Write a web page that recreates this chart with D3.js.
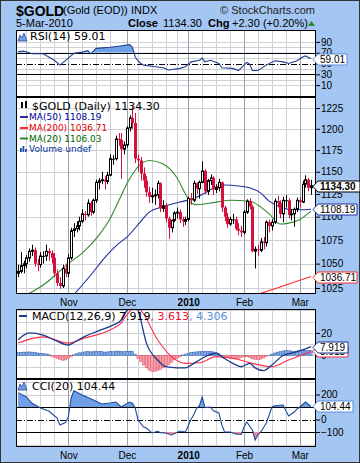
<!DOCTYPE html>
<html>
<head>
<meta charset="utf-8">
<script src="https://cdn.jsdelivr.net/npm/d3@7"></script>
<style>
body{margin:0;background:#fff}
svg{display:block}
.ax text{font-family:"Liberation Sans",Arial,sans-serif;font-size:10px;fill:#000}
.lg{font-family:"DejaVu Sans",Verdana,sans-serif}
.hd{font-family:"Liberation Sans",Arial,sans-serif}
</style>
</head>
<body>
<div id="chart"></div>
<script>
var holidays = ["2009-12-25","2010-01-01"]

var opens = [1040,1042,1048,1050,1056,1063,1064,1050,1049,1058,1058,1063,1061,1056,1040,1030,1027,1045,
1040,1056,1085,1087,1090,1095,1103,1102,1115,1105,1118,1138,1140,1141,1139,1146,1165,1165,1188,1187,1176,
1181,1201,1213,1207,1165,1163,1148,1140,1127,1122,1123,1124,1137,1109,1112,1098,1088,1096,1104,1105,1097,1095,
1097,1120,1118,1137,1131,1138,1151,1128,1140,1143,1130,1132,1138,1110,1100,1092,1097,1097,1087,1085,
1083,1105,1117,1111,1063,1065,1064,1073,1072,1094,1090,1094,1117,1115,1103,1118,1118,1102,1103,1108,
1118,1116,1136,1141,1132]
var highs = [1049,1062,1053,1059,1066,1070,1067,1055,1062,1063,1070,1066,1064,1061,1044,1036,1049,1050,
1060,1088,1093,1095,1100,1108,1106,1119,1117,1120,1141,1143,1150,1145,1150,1170,1169,1192,1195,1195,1185,
1203,1216,1227,1219,1170,1167,1155,1145,1133,1132,1130,1140,1138,1118,1115,1100,1097,1106,1110,1108,1100,1100,
1122,1126,1140,1138,1140,1162,1153,1142,1147,1145,1136,1142,1139,1112,1104,1100,1103,1100,1093,1090,
1107,1119,1120,1113,1068,1070,1077,1078,1096,1097,1097,1120,1123,1118,1122,1124,1120,1108,1110,1121,
1122,1140,1146,1143,1141]
var lows = [1036,1040,1040,1045,1052,1058,1047,1042,1046,1050,1053,1053,1050,1036,1027,1024,1025,1036,
1036,1054,1078,1083,1085,1093,1096,1100,1101,1103,1115,1130,1136,1130,1136,1145,1158,1163,1180,1142,1170,
1178,1197,1200,1160,1150,1140,1132,1122,1115,1115,1113,1120,1105,1105,1094,1076,1083,1094,1098,1093,1089,1091,
1095,1113,1116,1125,1120,1137,1125,1124,1135,1124,1126,1128,1105,1095,1088,1090,1092,1085,1080,1078,
1081,1103,1108,1062,1045,1058,1062,1065,1068,1083,1085,1092,1110,1098,1094,1110,1098,1096,1089,1105,
1110,1115,1132,1128,1124]
var closes = [1042,1048,1050,1056,1063,1064,1050,1049,1058,1058,1063,1061,1056,1040,1030,1027,1045,1040,
1056,1085,1087,1090,1095,1103,1102,1115,1105,1118,1138,1140,1141,1139,1146,1165,1165,1188,1187,1176,1181,
1201,1213,1207,1165,1163,1148,1140,1127,1122,1123,1124,1137,1109,1112,1098,1088,1096,1104,1105,1097,1095,1097,
1120,1118,1137,1131,1138,1151,1128,1140,1143,1130,1132,1138,1110,1100,1092,1097,1097,1087,1085,1083,
1105,1117,1111,1063,1065,1064,1073,1072,1094,1090,1094,1117,1115,1103,1118,1118,1102,1103,1108,1118,
1116,1136,1141,1132,1134.3]

var ma50 = [["2009-11-03",1015],["2009-11-12",1038],["2009-11-19",1056],["2009-11-26",1071],["2009-12-01",1078],
["2009-12-08",1095],["2009-12-11",1105],["2009-12-18",1111],["2009-12-29",1116],["2010-01-05",1119],["2010-01-12",1126],
["2010-01-14",1130],["2010-01-21",1135],["2010-01-28",1134],["2010-02-03",1132],["2010-02-09",1126],["2010-02-12",1117],
["2010-02-18",1111],["2010-02-23",1108],["2010-03-01",1107.5],["2010-03-05",1108.19]]
var ma200 = [["2010-02-08",1018.5],["2010-02-19",1027],["2010-02-26",1031.8],["2010-03-05",1036.71]]
var ma20 = [["2009-10-12",1018],["2009-10-21",1030],["2009-10-27",1040],["2009-11-02",1050],["2009-11-09",1061],
["2009-11-17",1080],["2009-11-23",1098],["2009-11-26",1117],["2009-12-02",1142],["2009-12-08",1159],["2009-12-11",1163],
["2009-12-18",1159],["2009-12-28",1143],["2009-12-31",1125],["2010-01-05",1115],["2010-01-07",1113],["2010-01-14",1115],
["2010-01-25",1118],["2010-02-03",1117],["2010-02-12",1103],["2010-02-18",1092],["2010-02-23",1093],["2010-03-01",1097],
["2010-03-05",1106.03]]

var rsi = [["2009-10-07",72],["2009-10-09",73],["2009-10-13",70],["2009-10-14",68],["2009-10-20",68],["2009-10-26",56],
["2009-10-28",47],["2009-11-02",60],["2009-11-04",69],["2009-11-09",71],["2009-11-11",74],["2009-11-12",68],["2009-11-16",78],
["2009-11-23",80],["2009-11-26",82],["2009-12-02",85],["2009-12-03",80],["2009-12-04",62],["2009-12-07",55],["2009-12-08",50],
["2009-12-09",47],["2009-12-14",45],["2009-12-18",42],["2009-12-22",38],["2009-12-29",41],["2009-12-31",44],["2010-01-05",53],
["2010-01-08",56],["2010-01-11",60],["2010-01-12",53],["2010-01-14",56],["2010-01-19",50],["2010-01-20",42],["2010-01-26",41],
["2010-01-28",37],["2010-02-02",52],["2010-02-03",49],["2010-02-04",37],["2010-02-08",37],["2010-02-11",47],["2010-02-16",55],
["2010-02-19",53],["2010-02-23",50],["2010-02-26",55],["2010-03-02",62],["2010-03-03",64],["2010-03-05",59.01]]

var macd = [["2009-10-07",14],["2009-10-13",20],["2009-10-20",18],["2009-10-26",13.8],["2009-11-02",9.3],["2009-11-05",13],
["2009-11-10",17],["2009-11-17",22],["2009-11-24",27],["2009-11-27",31.5],["2009-12-01",40],["2009-12-03",46],["2009-12-04",44],
["2009-12-07",40],["2009-12-10",11],["2009-12-16",-4],["2009-12-21",-10],["2009-12-28",-11],["2009-12-31",-11],["2010-01-06",-7],
["2010-01-08",-4],["2010-01-13",0],["2010-01-18",2],["2010-01-20",-1],["2010-01-26",-7],["2010-01-29",-10],["2010-02-03",-7],
["2010-02-05",-11],["2010-02-10",-13.5],["2010-02-15",-8.5],["2010-02-19",0],["2010-02-24",2],["2010-03-02",5],["2010-03-05",7.919]]
var signal = [["2009-10-07",11],["2009-10-20",16.5],["2009-11-02",11],["2009-11-10",15.5],["2009-11-23",22.7],["2009-11-27",29],
["2009-12-01",36],["2009-12-04",43],["2009-12-08",40],["2009-12-16",14],["2009-12-23",-1],["2009-12-31",-7],["2010-01-08",-6.5],
["2010-01-18",-1],["2010-01-26",-2.5],["2010-02-04",-7],["2010-02-15",-10],["2010-02-23",-4],["2010-03-05",3.613]]
var hist = [2.5,2.8,3.0,3.0,3.2,3.0,2.6,2.2,2.0,1.8,1.4,0.8,
-0.6,-1.5,-2.6,-3.5,-4.2,-4.0,-2.8,-1.2,
0.6,1.6,2.4,3.0,3.2,3.6,3.2,3.4,3.8,3.6,3.4,3.0,3.2,3.6,3.4,3.8,4.0,3.6,3.4,3.6,3.8,3.4,1.0,
-2.5,-5.5,-8.5,-11,-13,-14,-14,-13.5,-12.5,-11,-9.5,-8,-6,-4,-2.5,-1.2,
0.5,1.2,2.0,2.6,3.0,3.2,3.4,3.8,3.6,3.4,3.6,3.2,2.4,1.4,
0.2,-0.8,-1.8,-2.5,-2.8,-3.0,-2.6,-2.0,-1.0,-1.2,-2.0,-3.0,-3.5,-3.8,-3.2,-2.2,-1.0,
0.2,1.2,2.2,3.0,3.6,4.0,4.4,4.2,4.0,3.8,4.0,4.2,4.5,4.6,4.4,4.306]

var cci = [["2009-10-07",215],["2009-10-12",180],["2009-10-14",130],["2009-10-19",92],["2009-10-22",68],["2009-10-27",12],
["2009-10-28",-44],["2009-10-30",-25],["2009-11-02",20],["2009-11-03",170],["2009-11-04",230],["2009-11-09",196],["2009-11-13",156],
["2009-11-18",124],["2009-11-23",132],["2009-11-25",140],["2009-11-27",100],["2009-11-30",115],["2009-12-02",140],["2009-12-03",130],
["2009-12-04",90],["2009-12-07",-4],["2009-12-09",-60],["2009-12-10",-68],["2009-12-14",-108],["2009-12-16",-95],["2009-12-17",-105],
["2009-12-21",-108],["2009-12-23",-124],["2009-12-29",-92],["2009-12-31",-100],["2010-01-04",-50],["2010-01-05",0],["2010-01-06",40],
["2010-01-07",90],["2010-01-08",110],["2010-01-11",180],["2010-01-12",95],["2010-01-14",100],["2010-01-15",70],["2010-01-19",52],
["2010-01-20",-40],["2010-01-21",-100],["2010-01-25",-100],["2010-01-27",-115],["2010-01-29",-120],["2010-02-01",-60],["2010-02-02",-20],
["2010-02-04",-84],["2010-02-05",-164],["2010-02-08",-120],["2010-02-09",-100],["2010-02-11",-28],["2010-02-15",100],["2010-02-16",110],
["2010-02-19",116],["2010-02-22",70],["2010-02-23",28],["2010-02-25",60],["2010-02-26",84],["2010-03-01",100],["2010-03-03",140],
["2010-03-05",104.44]]

var mainTicks = [1025,1050,1075,1100,1125,1150,1175,1200,1225]
var rsiTicks = [10,30,50,70,90]
var macdTicks = [0,20]
var cciTicks = [-100,0,200]
var monthNames = {10:"Nov",11:"Dec",0:"2010",1:"Feb",2:"Mar"}

var fmt = d3.timeFormat("%Y-%m-%d")
var days = d3.timeDay.range(new Date(2009,9,7), new Date(2010,2,6)).filter(function(d){
  return d.getDay()>0 && d.getDay()<6 && holidays.indexOf(fmt(d))<0
})
var idx = {}
days.forEach(function(d,i){ idx[fmt(d)] = i })

var monthStarts = []
days.forEach(function(d,i){ if(i>0 && d.getMonth()!=days[i-1].getMonth()) monthStarts.push(i) })
var weekLines = []
days.forEach(function(d,i){
  if(d.getDay()==1 && !monthStarts.some(function(m){return Math.abs(m-i)<=2})) weekLines.push(i)
})

var L = 16, R = 316
var svg = d3.select("#chart").append("svg").attr("width",360).attr("height",463)
svg.append("rect").attr("x",0.5).attr("y",0.5).attr("width",359).attr("height",462)
  .attr("fill","#a4c6f2").attr("stroke","#333")

var x = d3.scaleLinear().domain([-0.75,106.8]).range([L,R])
var yRsi = d3.scaleLinear().domain([-12,112]).range([97,30])
var yMain = d3.scaleLog().domain([1018.9,1238.4]).range([294,97])
var yMacd = d3.scaleLinear().domain([-20.9,41.3]).range([379,309])
var yCci = d3.scaleLinear().domain([-220,324]).range([447,379])

var clipN = 0
function clip(x0,y0,x1,y1){
  var id = "c"+(clipN++)
  svg.append("clipPath").attr("id",id).append("rect").attr("x",x0).attr("y",y0).attr("width",x1-x0).attr("height",y1-y0)
  return "url(#"+id+")"
}

function panel(top,bottom,y,light,solid,dashed){
  svg.append("rect").attr("x",L).attr("y",top).attr("width",R-L).attr("height",bottom-top).attr("fill","#fff")
  var g = svg.append("g")
  light.forEach(function(v){
    g.append("line").attr("x1",L).attr("x2",R).attr("y1",Math.round(y(v))+0.5).attr("y2",Math.round(y(v))+0.5)
      .attr("stroke","#cfcfd6")
  })
  weekLines.forEach(function(i){
    var px = Math.round(x(i))+0.5
    g.append("line").attr("x1",px).attr("x2",px).attr("y1",top).attr("y2",bottom).attr("stroke","#cfcfd6")
  })
  monthStarts.forEach(function(i){
    var px = Math.round(x(i))+0.5
    g.append("line").attr("x1",px).attr("x2",px).attr("y1",top).attr("y2",bottom).attr("stroke","#9aa0ad")
  })
  solid.forEach(function(v){
    g.append("line").attr("x1",L).attr("x2",R).attr("y1",Math.round(y(v))+0.5).attr("y2",Math.round(y(v))+0.5)
      .attr("stroke","#000")
  })
  dashed.forEach(function(v){
    g.append("line").attr("x1",L).attr("x2",R).attr("y1",Math.round(y(v))+0.5).attr("y2",Math.round(y(v))+0.5)
      .attr("stroke","#000").attr("stroke-dasharray","6,2,1,2")
  })
  return clip(L,top,R,bottom)
}

function border(top,bottom){
  svg.append("rect").attr("x",L+0.5).attr("y",top+0.5).attr("width",R-L-1).attr("height",bottom-top-1)
    .attr("fill","none").attr("stroke","#000")
}

function rightAxis(y,ticks){
  var g = svg.append("g").attr("class","ax").attr("transform","translate("+R+",0)")
    .call(d3.axisRight(y).tickValues(ticks).tickSize(4).tickPadding(1).tickFormat(d3.format("d")))
  g.select(".domain").remove()
}

function bottomAxis(yPos){
  var g = svg.append("g").attr("class","ax").attr("transform","translate(0,"+yPos+")")
    .call(d3.axisBottom(x).tickValues(monthStarts).tickSize(0).tickPadding(5)
      .tickFormat(function(i){ return monthNames[days[i].getMonth()] }))
  g.select(".domain").remove()
  g.selectAll("text").attr("font-weight",function(i){ return days[i].getMonth()==0 ? "bold" : "normal" })
}

function line(y,curve){
  return d3.line().x(function(d){return x(idx[d[0]])}).y(function(d){return y(d[1])}).curve(curve || d3.curveLinear)
}

function tag(yv,label,color,w,bold){
  var yy = Math.round(yv)+0.5
  svg.append("path").attr("d","M313,"+yy+"L318,"+(yy-5.5)+"H"+(318+w)+"V"+(yy+5.5)+"H318Z")
    .attr("fill","#fff").attr("stroke",color)
  svg.append("text").attr("class","hd").attr("x",320).attr("y",yy+3.6).attr("font-size","10px")
    .attr("font-weight",bold ? "bold" : "normal").text(label)
}

function mountain(x0,y0){
  svg.append("path").attr("d","M"+x0+","+(y0+8)+"L"+(x0+2)+","+(y0+2)+"L"+(x0+4)+","+(y0+5)+"L"+(x0+6)+","+y0+"L"+(x0+9)+","+(y0+8)+"Z")
    .attr("fill","#6f9fe6").attr("stroke","#1f4a9c").attr("stroke-width",0.8)
}

// header
svg.append("text").attr("class","hd").attr("x",16).attr("y",15.5).attr("font-size","14px").attr("font-weight","bold").text("$GOLD")
svg.append("text").attr("class","hd").attr("x",63).attr("y",14).attr("font-size","11px").text("(Gold (EOD))")
svg.append("text").attr("class","hd").attr("x",131).attr("y",14).attr("font-size","11px").text("INDX")
svg.append("text").attr("class","hd").attr("x",315).attr("y",14).attr("font-size","11px").attr("text-anchor","end").attr("fill","#222").text("\u00a9 StockCharts.com")
svg.append("text").attr("class","hd").attr("x",16).attr("y",27).attr("font-size","11px").text("5-Mar-2010")
svg.append("text").attr("class","hd").attr("x",128).attr("y",27).attr("font-size","11px").attr("font-weight","bold").text("Close")
svg.append("text").attr("class","hd").attr("x",163).attr("y",27).attr("font-size","11px").text("1134.30")
svg.append("text").attr("class","hd").attr("x",208).attr("y",27).attr("font-size","11px").attr("font-weight","bold").text("Chg")
svg.append("text").attr("class","hd").attr("x",232).attr("y",27).attr("font-size","11px").text("+2.30 (+0.20%)")
svg.append("path").attr("d","M308,26L311.5,21L315,26Z").attr("fill","#2a8a2a")

// RSI panel
var cRsi = panel(30,97,yRsi,[10,20,40,60,80,90],[30,70],[50])
var gR = svg.append("g").attr("clip-path",cRsi)
gR.append("path").datum(rsi).attr("clip-path",clip(L,30,R,yRsi(70)))
  .attr("d",d3.area().x(function(d){return x(idx[d[0]])}).y0(yRsi(70)).y1(function(d){return yRsi(d[1])}))
  .attr("fill","#6f9fe6")
gR.append("path").datum(rsi).attr("d",line(yRsi)).attr("fill","none").attr("stroke","#1f3f8f").attr("stroke-width",1.1)
border(30,97)
mountain(18,33)
svg.append("text").attr("class","lg").attr("x",30).attr("y",40).attr("font-size","11px").text("RSI(14) 59.01")

// price panel
var cMain = panel(97,294,yMain,mainTicks,[],[])
var gM = svg.append("g").attr("clip-path",cMain)
gM.append("path").datum(ma200).attr("d",line(yMain,d3.curveMonotoneX)).attr("fill","none").attr("stroke","#ff2a2a").attr("stroke-width",1.1)
gM.append("path").datum(ma50).attr("d",line(yMain,d3.curveMonotoneX)).attr("fill","none").attr("stroke","#1f2fa0").attr("stroke-width",1.1)
gM.append("path").datum(ma20).attr("d",line(yMain,d3.curveMonotoneX)).attr("fill","none").attr("stroke","#2e8a2e").attr("stroke-width",1.1)

var candles = gM.selectAll("g.cd").data(closes).enter().append("g").attr("class","cd")
candles.each(function(c,i){
  var g = d3.select(this)
  var prev = i>0 ? closes[i-1] : opens[i]
  var col = c>=prev ? "#000" : "#d4103c"
  var cx = Math.round(x(i))
  g.append("line").attr("x1",cx+0.5).attr("x2",cx+0.5).attr("y1",yMain(highs[i])).attr("y2",yMain(lows[i])).attr("stroke",col)
  var top = yMain(Math.max(opens[i],c)), bot = yMain(Math.min(opens[i],c))
  if(c>opens[i]){
    g.append("rect").attr("x",cx-0.5).attr("y",top).attr("width",2).attr("height",Math.max(bot-top,1))
      .attr("fill","#fff").attr("stroke",col)
  } else {
    g.append("rect").attr("x",cx-1).attr("y",top).attr("width",3).attr("height",Math.max(bot-top,1)).attr("fill",col)
  }
})
border(97,294)

// price legend
svg.append("rect").attr("x",21).attr("y",102).attr("width",2).attr("height",6).attr("fill","#000")
svg.append("rect").attr("x",25).attr("y",101).attr("width",2).attr("height",7).attr("fill","#000")
svg.append("text").attr("class","lg").attr("x",32).attr("y",109.5).attr("font-size","11px").text("$GOLD (Daily) 1134.30")
var legRows = [["MA(50) 1108.19","#1f2fa0","#000099",120],["MA(200) 1036.71","#ff2a2a","#ee0000",131],["MA(20) 1106.03","#2e8a2e","#006600",141.5]]
legRows.forEach(function(r){
  svg.append("rect").attr("x",20).attr("y",r[3]-4).attr("width",8).attr("height",2).attr("fill",r[1])
  svg.append("text").attr("class","lg").attr("x",29).attr("y",r[3]).attr("font-size","9px").attr("fill",r[2]).text(r[0])
})
;[[20,4],[22.5,6],[25,3]].forEach(function(b){
  svg.append("rect").attr("x",b[0]).attr("y",152-b[1]).attr("width",1.8).attr("height",b[1]).attr("fill","#2050a8")
})
svg.append("text").attr("class","lg").attr("x",29).attr("y",152).attr("font-size","9px").attr("fill","#003399").text("Volume undef")

// MACD panel
var cMacd = panel(309,379,yMacd,[-10,0,10,20,30,40],[],[])
var gH = svg.append("g").attr("clip-path",cMacd)
gH.selectAll("rect").data(hist).enter().append("rect")
  .attr("x",function(d,i){return x(i)-1.2}).attr("width",2.4)
  .attr("y",function(d){return Math.min(yMacd(0),yMacd(d))})
  .attr("height",function(d){return Math.abs(yMacd(d)-yMacd(0))})
  .attr("fill",function(d){return d>=0 ? "#86aee8" : "#f4a3ad"})
  .attr("stroke",function(d){return d>=0 ? "#2a5cb0" : "#e04a5a"}).attr("stroke-width",0.5)
gH.append("path").datum(signal).attr("d",line(yMacd,d3.curveMonotoneX)).attr("fill","none").attr("stroke","#ff2d4d").attr("stroke-width",1.1)
gH.append("path").datum(macd).attr("d",line(yMacd,d3.curveMonotoneX)).attr("fill","none").attr("stroke","#1b3a8a").attr("stroke-width",1.3)
border(309,379)
svg.append("rect").attr("x",19).attr("y",315).attr("width",8).attr("height",2).attr("fill","#1b3a8a")
var mt = svg.append("text").attr("class","lg").attr("x",32).attr("y",320).attr("font-size","11px")
mt.append("tspan").text("MACD(12,26,9) 7.919")
mt.append("tspan").attr("fill","#ee1133").text(", 3.613")
mt.append("tspan").attr("fill","#5a8fe0").text(", 4.306")

// CCI panel
var cCci = panel(379,447,yCci,[-200,200,300],[-100,100],[0])
var gC = svg.append("g").attr("clip-path",cCci)
var cciArea = function(base){
  return d3.area().x(function(d){return x(idx[d[0]])}).y0(yCci(base)).y1(function(d){return yCci(d[1])})
}
gC.append("path").datum(cci).attr("clip-path",clip(L,379,R,yCci(100))).attr("d",cciArea(100)).attr("fill","#6f9fe6")
gC.append("path").datum(cci).attr("clip-path",clip(L,yCci(-100),R,447)).attr("d",cciArea(-100)).attr("fill","#f08a96")
gC.append("path").datum(cci).attr("d",line(yCci)).attr("fill","none").attr("stroke","#1f4a9c").attr("stroke-width",1.1)
border(379,447)
mountain(18,382)
svg.append("text").attr("class","lg").attr("x",32).attr("y",389.5).attr("font-size","11px").text("CCI(20) 104.44")

// axes
rightAxis(yRsi,rsiTicks)
rightAxis(yMain,mainTicks)
rightAxis(yMacd,macdTicks)
rightAxis(yCci,cciTicks)
bottomAxis(294)
bottomAxis(447)

// last value tags
tag(yRsi(59.01),"59.01","#5a8fe0",29)
tag(yMain(1036.71),"1036.71","#ff2a2a",39)
tag(yMain(1108.19),"1108.19","#1f2fa0",39)
tag(yMain(1134.30),"1134.30","#000",42,true)
tag(yMacd(3.613),"3.613","#ff2d4d",30)
tag(yMacd(7.919),"7.919","#1b3a8a",30)
tag(yCci(104.44),"104.44","#5a8fe0",35)
</script>
</body>
</html>
